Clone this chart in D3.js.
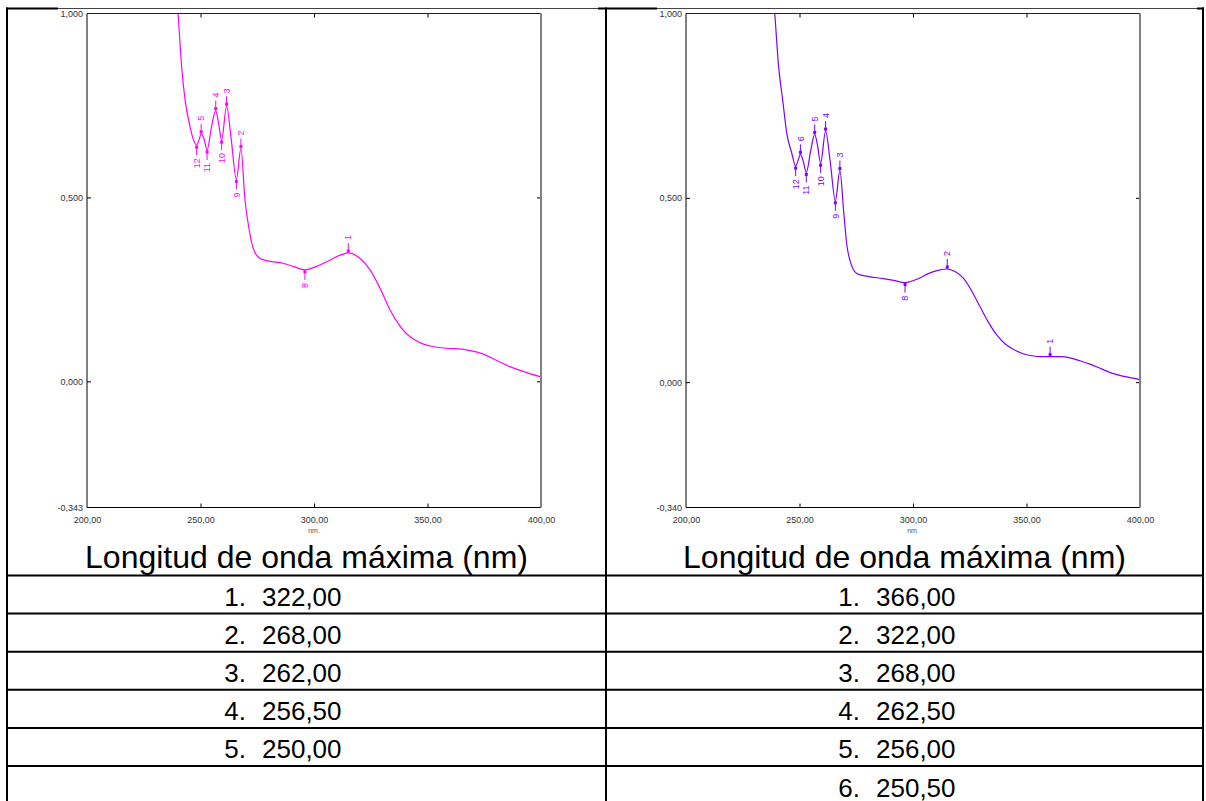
<!DOCTYPE html>
<html>
<head>
<meta charset="utf-8">
<script src="https://cdn.jsdelivr.net/npm/d3@7/dist/d3.min.js"></script>
<style>
  body { margin: 0; background: #fff; }
  svg { display: block; font-family: "Liberation Sans", Arial, sans-serif; }
</style>
</head>
<body>
<svg id="chart" width="1206" height="801"></svg>
<script>
// ---- data ----
// left spectrum: [nm, absorbance]
const spectrumA = [
  [238.5, 1.12], [240.1, 1.00], [241.7, 0.855], [243.2, 0.765], [245.4, 0.692],
  [247.0, 0.655], [248.3, 0.642], [249.3, 0.655], [250.3, 0.673], [251.5, 0.660],
  [252.9, 0.629], [254.8, 0.690], [256.7, 0.736], [258.0, 0.700], [259.3, 0.656],
  [261.5, 0.748], [263.5, 0.660], [265.8, 0.549], [267.8, 0.633], [269.6, 0.493],
  [271.5, 0.410], [273.3, 0.360], [276.2, 0.334], [280.0, 0.327], [286.3, 0.321],
  [291.0, 0.312], [296.0, 0.303], [301.0, 0.312], [305.6, 0.325], [311.5, 0.343],
  [315.1, 0.349], [320.3, 0.334], [324.7, 0.303], [329.1, 0.253], [333.5, 0.194],
  [337.9, 0.150], [341.0, 0.128], [343.8, 0.115], [348.2, 0.101], [351.1, 0.096],
  [358.0, 0.090], [365.8, 0.087], [370.0, 0.082], [374.6, 0.074], [380.0, 0.058],
  [386.3, 0.040], [392.0, 0.027], [400.0, 0.012]
];
// right spectrum: [nm, absorbance]
const spectrumB = [
  [237.5, 1.12], [239.1, 1.00], [240.8, 0.856], [242.6, 0.765], [244.4, 0.675],
  [246.6, 0.621], [248.3, 0.586], [249.3, 0.600], [250.4, 0.618], [251.6, 0.600],
  [253.0, 0.569], [255.0, 0.630], [256.7, 0.672], [258.0, 0.640], [259.3, 0.594],
  [261.5, 0.681], [263.5, 0.600], [265.8, 0.492], [267.8, 0.574], [269.5, 0.460],
  [270.9, 0.370], [272.2, 0.331], [275.2, 0.295], [280.0, 0.287], [286.9, 0.281],
  [291.5, 0.276], [296.5, 0.270], [302.0, 0.280], [307.0, 0.295], [311.0, 0.303],
  [315.1, 0.307], [318.5, 0.300], [322.2, 0.282], [325.8, 0.248], [329.5, 0.205],
  [333.0, 0.165], [336.9, 0.128], [340.5, 0.104], [344.2, 0.089], [348.5, 0.077],
  [353.0, 0.071], [356.5, 0.069], [360.4, 0.069], [365.0, 0.069], [369.2, 0.066],
  [373.5, 0.058], [378.0, 0.049], [383.0, 0.036], [388.2, 0.023], [393.5, 0.015],
  [400.0, 0.007]
];

// peak / valley picks: [label, nm, absorbance, kind]
const picksA = [
  ["1", 315.1, 0.349, "max"], ["2", 267.8, 0.633, "max"], ["3", 261.5, 0.748, "max"],
  ["4", 256.7, 0.736, "max"], ["5", 250.3, 0.673, "max"],
  ["8", 296.0, 0.303, "min"], ["9", 265.8, 0.549, "min"], ["10", 259.3, 0.656, "min"],
  ["11", 252.9, 0.629, "min"], ["12", 248.3, 0.642, "min"]
];
const picksB = [
  ["1", 360.4, 0.069, "max"], ["2", 315.1, 0.307, "max"], ["3", 267.8, 0.574, "max"],
  ["4", 261.5, 0.681, "max"], ["5", 256.7, 0.672, "max"], ["6", 250.4, 0.618, "max"],
  ["8", 296.5, 0.270, "min"], ["9", 265.8, 0.492, "min"], ["10", 259.3, 0.594, "min"],
  ["11", 253.0, 0.569, "min"], ["12", 248.3, 0.586, "min"]
];

const xTicks = [200, 250, 300, 350, 400];
const xDomain = [200, 400];
const yDomainA = [-0.343, 1.0];
const yDomainB = [-0.340, 1.0];
const yLabelTicksA = [-0.343, 0, 0.5, 1.0];
const yLabelTicksB = [-0.340, 0, 0.5, 1.0];
const innerYTicks = [0, 0.5];
const innerXTicks = [250, 300, 350];
const xUnit = "nm.";

const tableTitle = "Longitud de onda máxima (nm)";
const maximaA = ["322,00", "268,00", "262,00", "256,50", "250,00"];
const maximaB = ["366,00", "322,00", "268,00", "262,50", "256,00", "250,50"];

// ---- layout ----
const svg = d3.select("#chart");
const table = { left: 7, mid: 606, right: 1203, top: 8.5, firstRow: 575.5, rowH: 38.1, rows: 6 };
const colors = { A: "#ff00ff", B: "#8000ff" };
const comma = f => v => d3.format(f)(v).replace(".", ",").replace("−", "-");

// table rules
const rules = svg.append("g").attr("stroke", "#000").attr("stroke-width", 2);
rules.append("line").attr("x1", table.left - 1).attr("x2", table.right + 1).attr("y1", table.top).attr("y2", table.top);
[table.left, table.mid, table.right].forEach(xv =>
  rules.append("line").attr("x1", xv).attr("x2", xv).attr("y1", table.top - 1).attr("y2", 801));
d3.range(table.rows).forEach(i => {
  const yv = table.firstRow + i * table.rowH;
  rules.append("line").attr("x1", table.left).attr("x2", table.right).attr("y1", yv).attr("y2", yv);
});

function drawSpectrum(cfg) {
  const w = cfg.width, h = cfg.height;

  // pasted chart image: white, covers the thick top rule with a thin edge
  const imgLeft = cfg.left - 29, imgRight = cfg.left + w + 57;
  svg.append("rect")
    .attr("x", imgLeft).attr("y", table.top - 2)
    .attr("width", imgRight - imgLeft).attr("height", h + 40)
    .attr("fill", "#fff");
  svg.append("line")
    .attr("x1", imgLeft).attr("x2", imgRight).attr("y1", table.top).attr("y2", table.top)
    .attr("stroke", "#444").attr("stroke-width", 1);

  const g = svg.append("g").attr("transform", `translate(${cfg.left},${cfg.top})`);
  const x = d3.scaleLinear().domain(xDomain).range([0, w]);
  const y = d3.scaleLinear().domain(cfg.yDomain).range([h, 0]);

  // tick labels
  g.append("g")
    .call(d3.axisLeft(y).tickValues(cfg.yLabels).tickSize(0).tickPadding(4).tickFormat(comma(".3f")))
    .call(a => a.select(".domain").remove())
    .selectAll("text").attr("fill", "#333").attr("font-size", 9).attr("font-family", "Liberation Sans, Arial, sans-serif");

  g.append("g")
    .attr("transform", `translate(0,${h})`)
    .call(d3.axisBottom(x).tickValues(xTicks).tickSize(0).tickPadding(9).tickFormat(comma(".2f")))
    .call(a => a.select(".domain").remove())
    .selectAll("text").attr("fill", "#333").attr("font-size", 9).attr("font-family", "Liberation Sans, Arial, sans-serif");

  g.append("text")
    .attr("x", x(300)).attr("y", h + 25)
    .attr("text-anchor", "middle")
    .attr("font-size", 7).attr("fill", "#555")
    .text(xUnit);

  // inward ticks on all four sides
  const tick = (axis, tr) => g.append("g").attr("transform", tr)
    .call(axis).call(a => a.select(".domain").remove())
    .selectAll("line").attr("stroke", "#000");
  tick(d3.axisLeft(y).tickValues(innerYTicks).tickSize(-4).tickFormat(""), "translate(0,0)");
  tick(d3.axisRight(y).tickValues(innerYTicks).tickSize(-4).tickFormat(""), `translate(${w},0)`);
  tick(d3.axisBottom(x).tickValues(innerXTicks).tickSize(-4).tickFormat(""), `translate(0,${h})`);
  tick(d3.axisTop(x).tickValues(innerXTicks).tickSize(-4).tickFormat(""), "translate(0,0)");

  // clipped spectrum
  const clipId = "clip" + cfg.key;
  g.append("clipPath").attr("id", clipId)
    .append("rect").attr("width", w).attr("height", h);

  g.append("path")
    .datum(cfg.data)
    .attr("clip-path", `url(#${clipId})`)
    .attr("fill", "none")
    .attr("stroke", cfg.color)
    .attr("stroke-width", 1.2)
    .attr("d", d3.line().x(d => x(d[0])).y(d => y(d[1])).curve(d3.curveMonotoneX));

  // peak picks: dot, stem and rotated number
  const pk = g.append("g").attr("fill", cfg.color);
  cfg.picks.forEach(([label, nm, v, kind]) => {
    const px = x(nm), py = y(v);
    const dir = kind === "max" ? -1 : 1;
    pk.append("rect").attr("x", px - 1.5).attr("y", py + dir * 2 - 1.5).attr("width", 3).attr("height", 3);
    pk.append("line")
      .attr("x1", px).attr("x2", px)
      .attr("y1", py).attr("y2", py + dir * 10)
      .attr("stroke", cfg.color).attr("stroke-width", 1);
    pk.append("text")
      .attr("transform", `translate(${px},${py + dir * 13}) rotate(-90)`)
      .attr("dy", "0.35em")
      .attr("text-anchor", kind === "max" ? "start" : "end")
      .attr("font-size", 9)
      .text(label);
  });

  // frame
  g.append("line").attr("x1", 0).attr("x2", w).attr("y1", 0).attr("y2", 0).attr("stroke", "#222");
  g.append("line").attr("x1", 0).attr("x2", 0).attr("y1", 0).attr("y2", h).attr("stroke", "#000");
  g.append("line").attr("x1", 0).attr("x2", w).attr("y1", h).attr("y2", h).attr("stroke", "#000").attr("stroke-width", 1.2);
  g.append("line").attr("x1", w).attr("x2", w).attr("y1", 0).attr("y2", h).attr("stroke", "#808080").attr("stroke-width", 2);
}

drawSpectrum({ key: "A", left: 87, top: 13.5, width: 454, height: 494, yDomain: yDomainA,
  yLabels: yLabelTicksA, data: spectrumA, picks: picksA, color: colors.A });
drawSpectrum({ key: "B", left: 686, top: 13.5, width: 454, height: 494, yDomain: yDomainB,
  yLabels: yLabelTicksB, data: spectrumB, picks: picksB, color: colors.B });

// table text
const cols = [
  { center: (table.left + table.mid) / 2, numX: 246, valX: 262, values: maximaA },
  { center: (table.mid + table.right) / 2, numX: 860, valX: 876, values: maximaB }
];
cols.forEach(c => {
  svg.append("text")
    .attr("x", c.center).attr("y", 568)
    .attr("text-anchor", "middle")
    .attr("font-size", 32).attr("fill", "#000")
    .text(tableTitle);
  c.values.forEach((v, i) => {
    const base = table.firstRow + i * table.rowH + 30.5;
    svg.append("text").attr("x", c.numX).attr("y", base).attr("text-anchor", "end")
      .attr("font-size", 26).text(`${i + 1}.`);
    svg.append("text").attr("x", c.valX).attr("y", base)
      .attr("font-size", 26).text(v);
  });
});
</script>
</body>
</html>
